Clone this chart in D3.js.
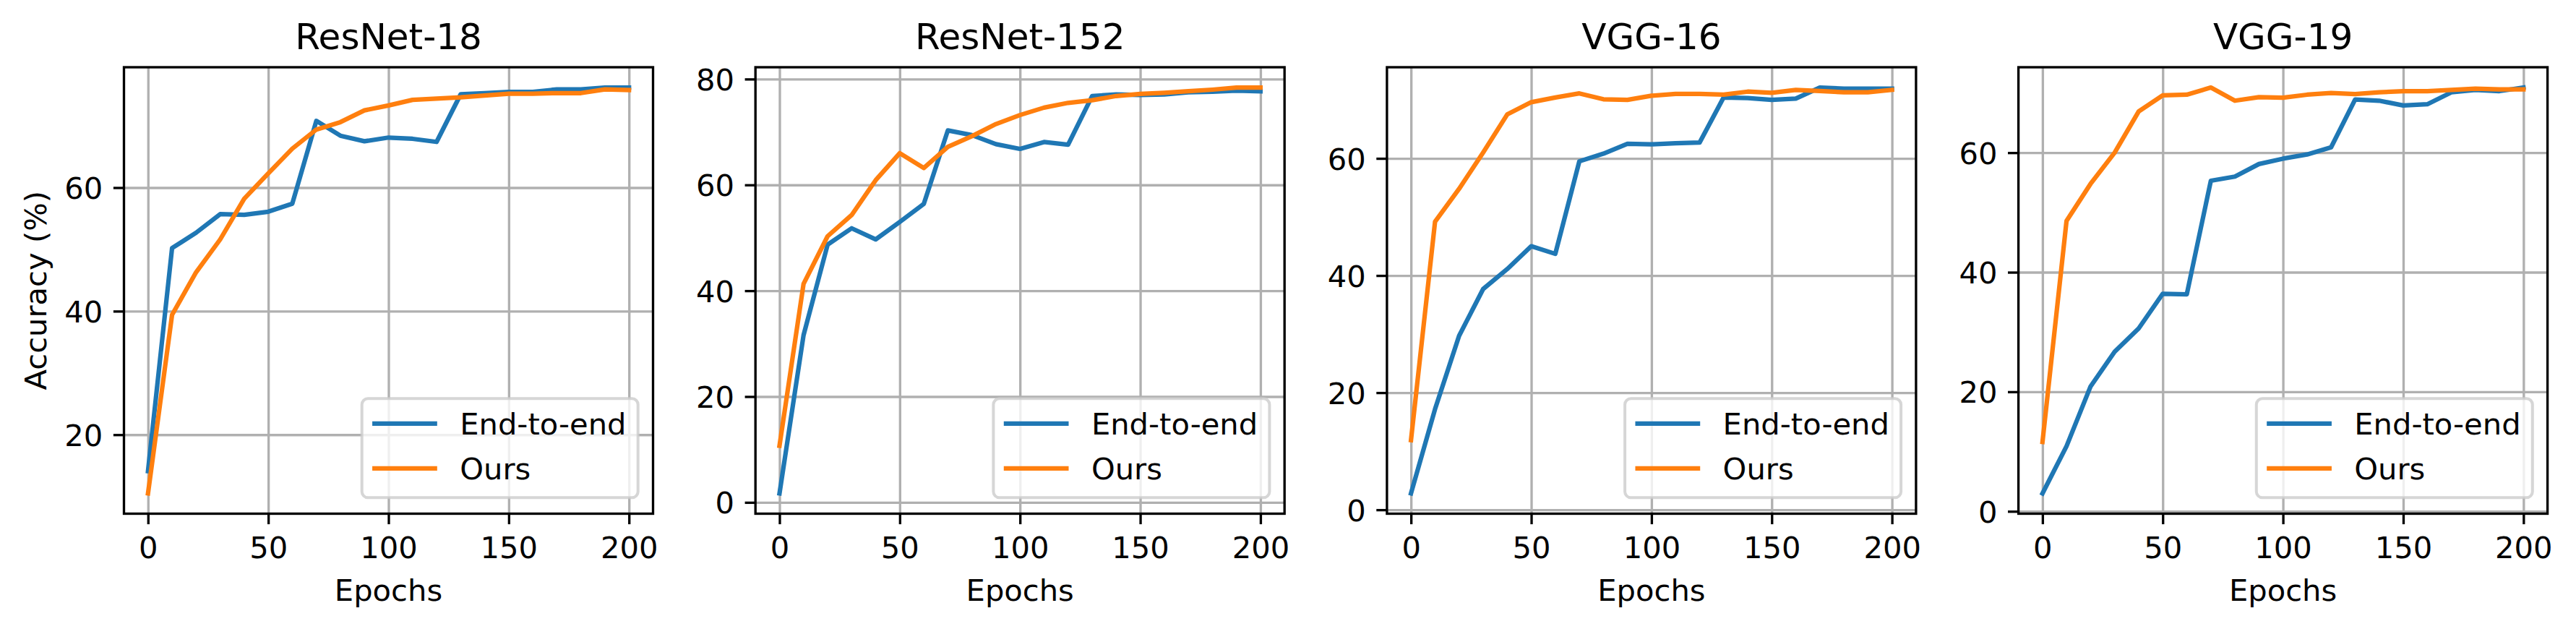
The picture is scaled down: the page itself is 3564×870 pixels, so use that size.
<!DOCTYPE html>
<html>
<head>
<meta charset="utf-8">
<script src="https://cdn.jsdelivr.net/npm/d3@7"></script>
<style>
  body { margin: 0; background: #fff; }
  text { font-family: "DejaVu Sans", sans-serif; fill: #000; }
</style>
</head>
<body>
<div id="chart"></div>
<script>
// data
var epochs = [0, 10, 20, 30, 40, 50, 60, 70, 80, 90, 100, 110, 120, 130, 140, 150, 160, 170, 180, 190, 200];

var titles = ["ResNet-18", "ResNet-152", "VGG-16", "VGG-19"];
var seriesNames = ["End-to-end", "Ours"];
var seriesColors = ["#1f77b4", "#ff7f0e"];

var resnet18E2E = [14.1, 50.2, 52.7, 55.7, 55.6, 56.1, 57.4, 70.8, 68.4, 67.5, 68.1, 67.9, 67.4, 75.1, 75.3, 75.5, 75.5, 75.9, 75.9, 76.2, 76.2];
var resnet18Ours = [10.5, 39.4, 46.3, 51.6, 58.2, 62.3, 66.3, 69.4, 70.6, 72.5, 73.3, 74.2, 74.4, 74.6, 74.9, 75.2, 75.2, 75.3, 75.3, 75.9, 75.8];

var resnet152E2E = [1.7, 31.6, 48.7, 51.8, 49.7, 53.0, 56.4, 70.3, 69.4, 67.7, 66.8, 68.1, 67.6, 76.8, 77.1, 77.0, 77.1, 77.5, 77.6, 77.8, 77.7];
var resnet152Ours = [10.7, 41.3, 50.3, 54.3, 60.9, 66.0, 63.2, 67.2, 69.2, 71.5, 73.2, 74.6, 75.5, 76.0, 76.8, 77.2, 77.4, 77.7, 78.0, 78.4, 78.4];

var vgg16E2E = [2.8, 17.2, 29.7, 37.7, 41.1, 45.0, 43.7, 59.5, 60.8, 62.5, 62.4, 62.6, 62.7, 70.4, 70.3, 70.0, 70.2, 72.1, 71.9, 71.9, 71.9];
var vgg16Ours = [11.9, 49.2, 54.8, 61.0, 67.5, 69.6, 70.4, 71.1, 70.1, 70.0, 70.7, 71.0, 71.0, 70.9, 71.4, 71.2, 71.7, 71.5, 71.3, 71.3, 71.7];

var vgg19E2E = [3.0, 10.9, 20.9, 26.7, 30.6, 36.4, 36.3, 55.3, 56.0, 58.1, 59.0, 59.7, 60.9, 68.9, 68.7, 67.9, 68.1, 70.1, 70.5, 70.3, 70.9];
var vgg19Ours = [11.6, 48.6, 54.8, 60.0, 66.9, 69.6, 69.7, 70.9, 68.7, 69.3, 69.2, 69.7, 70.0, 69.8, 70.1, 70.3, 70.3, 70.5, 70.7, 70.6, 70.6];

var xTicks = [0, 50, 100, 150, 200];
var yTicks = [[20, 40, 60], [0, 20, 40, 60, 80], [0, 20, 40, 60], [0, 20, 40, 60]];

var panels = [
  [resnet18E2E, resnet18Ours],
  [resnet152E2E, resnet152Ours],
  [vgg16E2E, vgg16Ours],
  [vgg19E2E, vgg19Ours]
];

var svgWidth = 3564, svgHeight = 870;
var fs = 41.67;          // 10pt at 300 dpi
var tickLen = 14.6;
var thin = 3.33;

var svg = d3.select("#chart")
  .append("svg")
  .attr("width", svgWidth)
  .attr("height", svgHeight);

var axTop = 93, axBottom = 710.5;
var height = axBottom - axTop;
var width = 732;

panels.forEach(function(series, i) {
  var left = 171.5 + i * 873.7;

  var all = series[0].concat(series[1]);
  var lo = d3.min(all), hi = d3.max(all);
  var pad = (hi - lo) * 0.05;

  var xScale = d3.scaleLinear().domain([-10, 210]).range([0, width]);
  var yScale = d3.scaleLinear().domain([lo - pad, hi + pad]).range([height, 0]);

  var g = svg.append("g").attr("transform", `translate(${left}, ${axTop})`);

  // grid
  g.append("g")
    .attr("transform", `translate(0, ${height})`)
    .call(d3.axisBottom(xScale).tickValues(xTicks).tickSize(-height).tickFormat(""))
    .call(s => s.select(".domain").remove())
    .call(s => s.selectAll("line").attr("stroke", "#b0b0b0").attr("stroke-width", thin));
  g.append("g")
    .call(d3.axisLeft(yScale).tickValues(yTicks[i]).tickSize(-width).tickFormat(""))
    .call(s => s.select(".domain").remove())
    .call(s => s.selectAll("line").attr("stroke", "#b0b0b0").attr("stroke-width", thin));

  // lines
  var line = d3.line()
    .x((d, j) => xScale(epochs[j]))
    .y(d => yScale(d));

  series.forEach(function(vals, k) {
    g.append("path")
      .datum(vals)
      .attr("d", line)
      .attr("fill", "none")
      .attr("stroke", seriesColors[k])
      .attr("stroke-width", 6.25)
      .attr("stroke-linejoin", "round")
      .attr("stroke-linecap", "square");
  });

  // spines
  g.append("rect")
    .attr("width", width)
    .attr("height", height)
    .attr("fill", "none")
    .attr("stroke", "#000")
    .attr("stroke-width", thin);

  // ticks + labels
  var xAxis = g.append("g")
    .attr("transform", `translate(0, ${height})`)
    .call(d3.axisBottom(xScale).tickValues(xTicks).tickSize(tickLen).tickSizeOuter(0).tickPadding(17));
  xAxis.select(".domain").remove();
  xAxis.selectAll("line").attr("stroke-width", thin);
  xAxis.selectAll("text").attr("font-size", fs).attr("font-family", "DejaVu Sans");

  var yAxis = g.append("g")
    .call(d3.axisLeft(yScale).tickValues(yTicks[i]).tickSize(tickLen).tickSizeOuter(0).tickPadding(14.6));
  yAxis.select(".domain").remove();
  yAxis.selectAll("line").attr("stroke-width", thin);
  yAxis.selectAll("text").attr("font-size", fs).attr("font-family", "DejaVu Sans").attr("dy", "0.36em");

  // title
  g.append("text")
    .attr("x", width / 2)
    .attr("y", -24.7)
    .attr("text-anchor", "middle")
    .attr("font-size", 50)
    .text(titles[i]);

  // x label
  g.append("text")
    .attr("x", width / 2)
    .attr("y", height + 120.5)
    .attr("text-anchor", "middle")
    .attr("font-size", fs)
    .text("Epochs");

  if (i === 0) {
    g.append("text")
      .attr("transform", `translate(${64 - left}, ${height / 2}) rotate(-90)`)
      .attr("text-anchor", "middle")
      .attr("font-size", fs)
      .text("Accuracy (%)");
  }

  // legend, lower right
  var lw = 382, lh = 137;
  var lg = g.append("g")
    .attr("transform", `translate(${width - 20.8 - lw}, ${height - 22.2 - lh})`);
  lg.append("rect")
    .attr("width", lw)
    .attr("height", lh)
    .attr("rx", 8.3)
    .attr("fill", "#fff")
    .attr("fill-opacity", 0.8)
    .attr("stroke", "#cccccc")
    .attr("stroke-opacity", 0.8)
    .attr("stroke-width", 4);

  seriesNames.forEach(function(name, k) {
    var base = 50 + k * 62;
    lg.append("line")
      .attr("x1", 17.5)
      .attr("x2", 101)
      .attr("y1", base - 15.5)
      .attr("y2", base - 15.5)
      .attr("stroke", seriesColors[k])
      .attr("stroke-width", 6.25)
      .attr("stroke-linecap", "square");
    lg.append("text")
      .attr("x", 135.5)
      .attr("y", base)
      .attr("font-size", fs)
      .text(name);
  });
});
</script>
</body>
</html>
